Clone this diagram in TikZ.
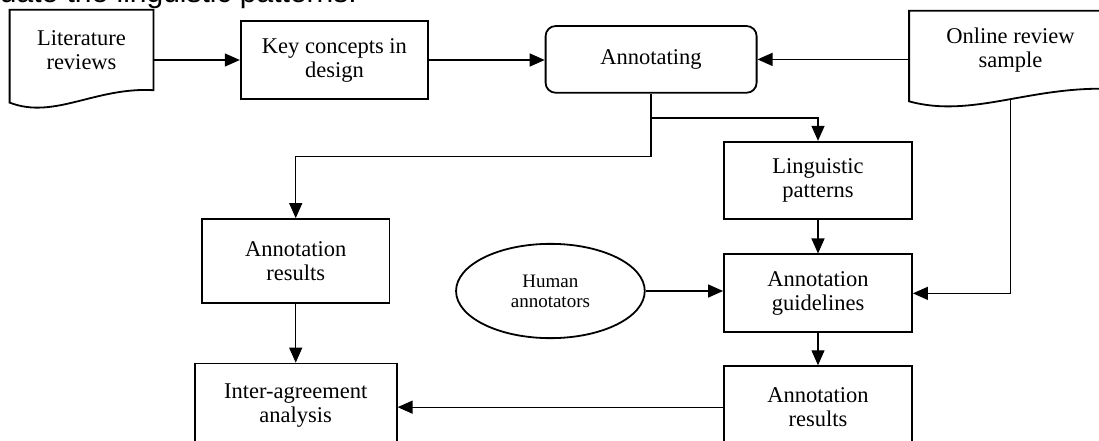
\documentclass[tikz,border=0pt]{standalone}
\usepackage{fontspec}
\setmainfont{Liberation Serif}
\newfontfamily\capfont{Liberation Sans}
\usepackage{tikz}
\usetikzlibrary{positioning, calc, arrows.meta, shapes.geometric}
\tikzstyle{box} = [
    rectangle,
    draw,
    line width = 1.8pt,
    text centered,
    align = center,
    inner sep = 0pt,
    minimum width = 188pt,
    minimum height = 78pt,
    font = \fontsize{22.5}{24}\selectfont
]
\tikzstyle{proc} = [
    box,
    rounded corners = 10pt,
    minimum width = 211pt,
    minimum height = 66.7pt
]
\tikzstyle{doc} = [
    box,
    draw = none
]
\tikzstyle{actor} = [
    ellipse,
    draw,
    line width = 1.8pt,
    align = center,
    inner sep = 0pt,
    minimum width = 188.7pt,
    minimum height = 94.3pt,
    font = \fontsize{19}{20}\selectfont
]
\tikzstyle{arr} = [
    -{Triangle[length = 15pt, width = 13pt]},
    line width = 1.3pt
]
\tikzstyle{docline} = [
    line width = 1.8pt,
    line join = miter
]
\newcommand{\docoutline}[1]{%
    \draw[docline] ($(#1.south west)+(0,12.4)$) -- (#1.north west) -- (#1.north east) -- (#1.south east)
        .. controls ($(#1.south west)!0.595!(#1.south east)+(0,-3.3)$)
        and ($(#1.south west)!0.31!(#1.south east)+(0,29.7)$) .. ($(#1.south west)+(0,12.4)$) -- cycle;
}

\begin{document}
\begin{tikzpicture}[x = 1pt, y = -1pt]
    \useasboundingbox (0,0) rectangle (1099,441);
    \clip (0,0) rectangle (1099,441);
    % caption, cut off at the top
    \node[anchor = base east, inner sep = 0pt, font = \capfont\fontsize{30}{30}\selectfont] (cap) at (357,3) {evaluate the linguistic patterns.};
    % top row
    \node[doc, minimum width = 142pt, minimum height = 78.6pt] (lit) at (81.5,50) {Literature\\reviews};
    \node[box, minimum width = 187.3pt] (key) at (334.4,60) {Key concepts in\\design};
    \node[proc] (annot) at (651.1,59.4) {Annotating};
    \node[doc, minimum width = 201pt, minimum height = 76.3pt] (online) at (1010.5,49.9) {Online review\\sample};
    \docoutline{lit}
    \docoutline{online}
    % right column
    \node[box, minimum height = 77.3pt] (ling) at (818,180.4) {Linguistic\\patterns};
    \node[box, below = 33.5pt of ling] (guide) {Annotation\\guidelines};
    \node[box, minimum height = 82pt, below = 32pt of guide] (resR) {Annotation\\results};
    \node[actor] (human) at (550.4,291) {Human\\annotators};
    % left column
    \node[box, minimum width = 187.5pt, minimum height = 83.7pt] (resL) at (295.7,260.9) {Annotation\\results};
    \node[box, minimum width = 202pt, minimum height = 85pt, below = 59pt of resL] (inter) {Inter-agreement\\analysis};
    % connectors
    \draw[arr] (lit.east |- key.west) -- (key.west);
    \draw[arr] (key.east) -- (annot.west |- key.east);
    \draw[arr] (online.west |- annot.east) -- (annot.east);
    \draw[arr] (annot.south) -- ++(0,63) -| (resL.north);
    \draw[arr] ([yshift=-24.3pt]annot.south) -| (ling.north);
    \draw[arr] (ling) -- (guide);
    \draw[arr] (guide) -- (resR);
    \draw[arr] (human.east) -- (guide.west |- human.east);
    \draw[arr] ([yshift=-11pt]online.south) |- (guide.east);
    \draw[arr] (resR.west) -- (inter.east |- resR.west);
    \draw[arr] (resL.south) -- (resL.south |- inter.north);
\end{tikzpicture}
\end{document}
